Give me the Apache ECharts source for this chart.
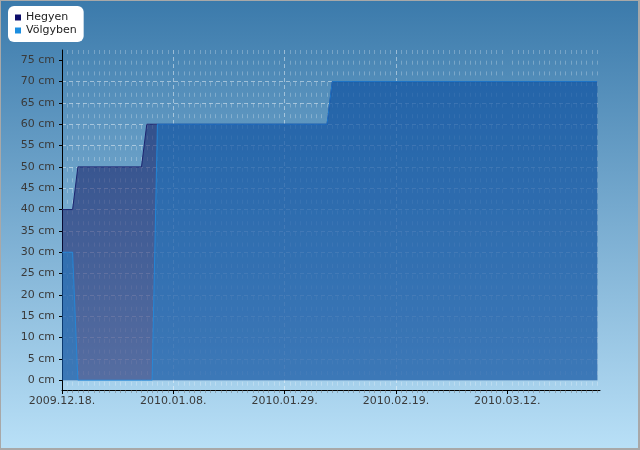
<!DOCTYPE html>
<html>
<head>
<meta charset="utf-8">
<script src="https://cdn.jsdelivr.net/npm/echarts@6/dist/echarts.min.js"></script>
<style>
  html, body { margin: 0; padding: 0; }
  #main { width: 640px; height: 450px; }
</style>
</head>
<body>
<div id="main"></div>
<script>
// snow depth, two stations
const dates = ['2009.12.18', '2009.12.20', '2009.12.21', '2010.01.02', '2010.01.03',
    '2010.01.04', '2010.01.05', '2010.02.06', '2010.02.07', '2010.03.29']
const hegyen = [40, 40, 50, 50, 60, 60, 60, 60, 70, 70]
const volgyben = [30, 30, 0, 0, 0, 0, 60, 60, 70, 70]

const xTicks = ['2009.12.18', '2010.01.08', '2010.01.29', '2010.02.19', '2010.03.12']
const yTicks = [0, 5, 10, 15, 20, 25, 30, 35, 40, 45, 50, 55, 60, 65, 70, 75]

const DAY = 86400000
const START = Date.UTC(2009, 11, 18)
const FONT = 'DejaVu Sans'

const dayOf = (s) => {
    const [y, m, d] = s.split('.').map(Number)
    return (Date.UTC(y, m - 1, d) - START) / DAY
}
const pad = (n) => (n < 10 ? '0' : '') + n
const fmtDay = (v) => {
    const t = new Date(START + Math.round(v) * DAY)
    return t.getUTCFullYear() + '.' + pad(t.getUTCMonth() + 1) + '.' + pad(t.getUTCDate()) + '.'
}

const xTickVals = xTicks.map(dayOf)

let chartDom = document.getElementById('main')
let myChart = echarts.init(chartDom)
let option = {
    animation: false,
    backgroundColor: new echarts.graphic.LinearGradient(0, 0, 0, 1, [
        { offset: 0, color: '#3b7aab' },
        { offset: 1, color: '#b9e0f7' }
    ]),
    graphic: [
        {
            type: 'rect',
            silent: true,
            z: 100,
            shape: { x: 0, y: 0, width: 639, height: 449 },
            style: { fill: 'none', stroke: '#a8a8a8', lineWidth: 2 }
        }
    ],
    legend: {
        left: 8,
        top: 6,
        orient: 'vertical',
        backgroundColor: '#fff',
        borderRadius: 6,
        padding: [6, 7, 6, 7],
        itemGap: 2,
        itemWidth: 6,
        itemHeight: 6,
        icon: 'rect',
        textStyle: { fontFamily: FONT, fontSize: 11, color: '#222' },
        data: [
            { name: 'Hegyen', itemStyle: { color: '#0d0d6a' } },
            { name: 'Völgyben', itemStyle: { color: '#1c8ee0' } }
        ]
    },
    grid: { left: 62, right: 40, top: 50, bottom: 60 },
    xAxis: {
        type: 'value',
        min: 0,
        max: 101.5,
        interval: 21,
        axisLine: { onZero: false, lineStyle: { color: '#000', width: 1 } },
        axisTick: { customValues: xTickVals, length: 4, lineStyle: { color: '#000' } },
        axisLabel: {
            customValues: xTickVals,
            formatter: fmtDay,
            margin: 6,
            color: '#3a3a3a',
            fontFamily: FONT,
            fontSize: 11
        },
        splitLine: {
            show: true,
            showMinLine: false,
            showMaxLine: false,
            lineStyle: { color: 'rgba(255,255,255,0.45)', type: [4, 3] }
        },
        minorTick: { show: true, splitNumber: 21, length: 3, lineStyle: { color: 'rgba(120,120,120,0.5)' } },
        minorSplitLine: {
            show: true,
            lineStyle: { color: 'rgba(255,255,255,0.25)', type: [4, 6.7] }
        }
    },
    yAxis: {
        type: 'value',
        min: -2.3,
        max: 77.4,
        interval: 5,
        axisLine: { show: true, onZero: false, lineStyle: { color: '#000', width: 1 } },
        axisTick: { show: true, customValues: yTicks, length: 3, lineStyle: { color: '#000' } },
        axisLabel: {
            customValues: yTicks,
            formatter: '{value} cm',
            margin: 7,
            color: '#3a3a3a',
            fontFamily: FONT,
            fontSize: 11
        },
        splitLine: {
            show: true,
            showMinLine: false,
            showMaxLine: false,
            lineStyle: { color: 'rgba(255,255,255,0.45)', type: [4, 3] }
        }
    },
    series: [
        {
            name: 'Hegyen',
            type: 'line',
            symbol: 'none',
            color: '#0d0d6a',
            lineStyle: { color: '#1c2470', width: 1 },
            areaStyle: { color: 'rgba(12,18,92,0.74)', origin: 0 },
            data: dates.map((d, i) => [dayOf(d), hegyen[i]])
        },
        {
            name: 'Völgyben',
            type: 'line',
            symbol: 'none',
            color: '#1c8ee0',
            lineStyle: { color: 'rgba(30,140,225,0.8)', width: 1 },
            areaStyle: { color: 'rgba(22,138,218,0.55)', origin: 0 },
            data: dates.map((d, i) => [dayOf(d), volgyben[i]])
        }
    ]
}

option && myChart.setOption(option)
</script>
</body>
</html>
